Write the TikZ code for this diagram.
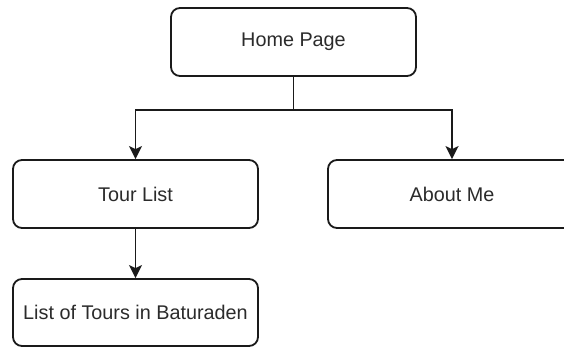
\documentclass[tikz,border=0pt]{standalone}
\usepackage{fontspec}
\setmainfont{Liberation Sans}
\usetikzlibrary{arrows.meta}
\definecolor{ink}{HTML}{1A1A1A}
\definecolor{txt}{HTML}{2B2B2B}
\begin{document}
\begin{tikzpicture}[x=1pt,y=-1pt,
  pagebox/.style={draw=ink, line width=1.8pt, rounded corners=9pt, fill=white,
    minimum width=245pt, minimum height=68pt, inner sep=0pt,
    text=txt, font=\fontsize{19.8}{24}\selectfont},
  link/.style={draw=ink, line width=1.8pt},
  arrowlink/.style={link, -{Stealth[length=13pt,width=13pt,inset=3pt]}}]
  \useasboundingbox (0,0) rectangle (564,348);
  \clip (0,0) rectangle (564,348);

  \node[pagebox] (home)  at (293.5,42)  {Home Page};
  \node[pagebox] (tour)  at (135.5,194) {Tour List};
  \node[pagebox, minimum width=248pt] (about) at (452,194) {About Me};
  \node[pagebox, minimum height=67pt] (list) at (135.5,312.5) {List of Tours in Baturaden};

  % branch point below the home page
  \coordinate (fork) at (home.south |- 0,110);
  \draw[link] (home.south) -- (fork);
  \draw[arrowlink] (fork) -| (tour.north);
  \draw[arrowlink] (fork) -| (about.north);
  \draw[arrowlink] (tour.south) -- (list.north);
\end{tikzpicture}
\end{document}
